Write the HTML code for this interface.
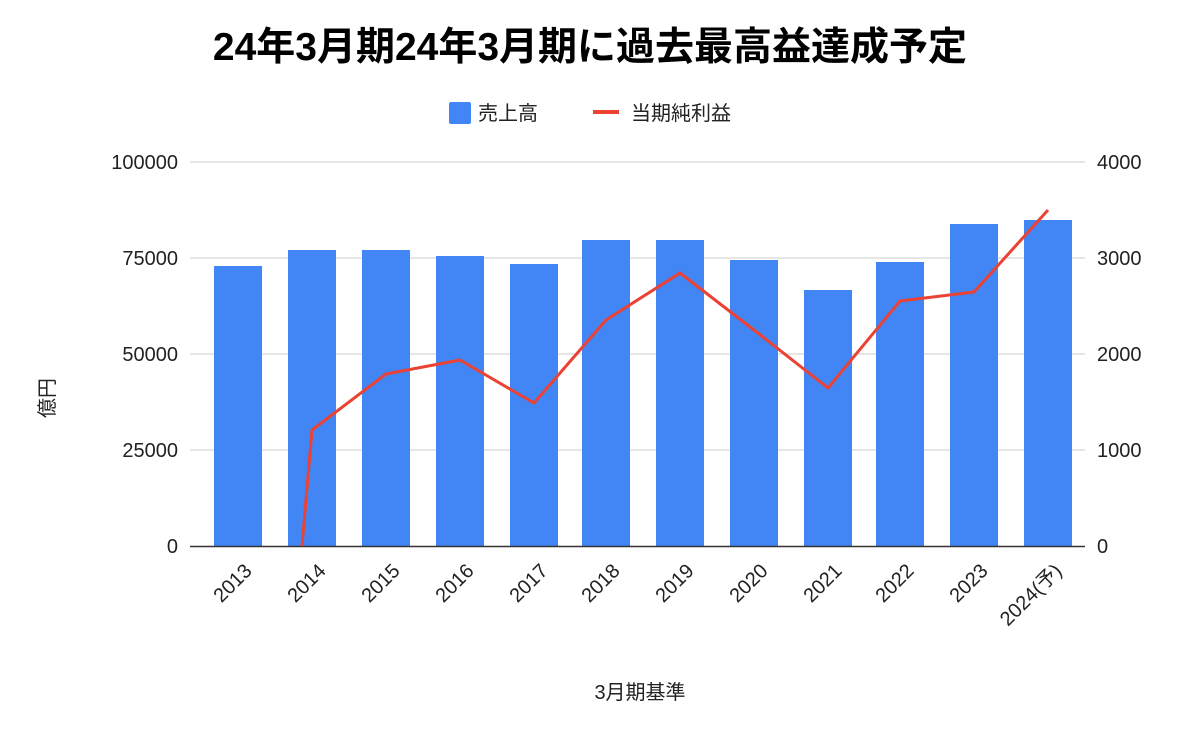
<!DOCTYPE html>
<html><head><meta charset="utf-8"><style>
body{margin:0;background:#fff;}
svg text{font-family:"Liberation Sans","Noto Sans CJK JP",sans-serif;}
</style></head><body>
<svg width="1200" height="742" viewBox="0 0 1200 742" xmlns="http://www.w3.org/2000/svg">
<rect width="1200" height="742" fill="#fff"/>
<text x="590" y="60" text-anchor="middle" font-size="39" font-weight="bold" fill="#000">24年3月期24年3月期に過去最高益達成予定</text>
<rect x="449" y="102" width="22" height="22" rx="2" fill="#4285f4"/>
<text x="478" y="120" font-size="20" fill="#222">売上高</text>
<rect x="593" y="110" width="26" height="4" fill="#ea4335"/>
<text x="631" y="120" font-size="20" fill="#222">当期純利益</text>
<g stroke="#ccc" stroke-width="1">
<line x1="190" y1="162" x2="1085" y2="162"/>
<line x1="190" y1="258" x2="1085" y2="258"/>
<line x1="190" y1="354" x2="1085" y2="354"/>
<line x1="190" y1="450" x2="1085" y2="450"/>
</g>
<g font-size="20" fill="#222" text-anchor="end">
<text x="178" y="169">100000</text><text x="178" y="265">75000</text><text x="178" y="361">50000</text><text x="178" y="457">25000</text><text x="178" y="553">0</text>
</g>
<g font-size="20" fill="#222" text-anchor="start">
<text x="1097" y="169">4000</text><text x="1097" y="265">3000</text><text x="1097" y="361">2000</text><text x="1097" y="457">1000</text><text x="1097" y="553">0</text>
</g>
<text transform="translate(54,398) rotate(-90)" font-size="20" fill="#222" text-anchor="middle">億円</text>
<g fill="#4285f4">
<rect x="214" y="266" width="48" height="280"/>
<rect x="288" y="250" width="48" height="296"/>
<rect x="362" y="250" width="48" height="296"/>
<rect x="436" y="256" width="48" height="290"/>
<rect x="510" y="264" width="48" height="282"/>
<rect x="582" y="240" width="48" height="306"/>
<rect x="656" y="240" width="48" height="306"/>
<rect x="730" y="260" width="48" height="286"/>
<rect x="804" y="290" width="48" height="256"/>
<rect x="876" y="262" width="48" height="284"/>
<rect x="950" y="224" width="48" height="322"/>
<rect x="1024" y="220" width="48" height="326"/>
</g>
<line x1="190" y1="546.5" x2="1085" y2="546.5" stroke="#333" stroke-width="1.5"/>
<polyline fill="none" stroke="#ea4335" stroke-width="3" stroke-linejoin="round" points="302,546 312,430 386,374 460,360 534,403 606,320 680,273 754,330 828,388 900,301 974,292 1048,210"/>
<g font-size="20" fill="#222" text-anchor="end">
<text transform="translate(253,572) rotate(-45)">2013</text>
<text transform="translate(327,572) rotate(-45)">2014</text>
<text transform="translate(401,572) rotate(-45)">2015</text>
<text transform="translate(475,572) rotate(-45)">2016</text>
<text transform="translate(549,572) rotate(-45)">2017</text>
<text transform="translate(621,572) rotate(-45)">2018</text>
<text transform="translate(695,572) rotate(-45)">2019</text>
<text transform="translate(769,572) rotate(-45)">2020</text>
<text transform="translate(843,572) rotate(-45)">2021</text>
<text transform="translate(915,572) rotate(-45)">2022</text>
<text transform="translate(989,572) rotate(-45)">2023</text>
<text transform="translate(1063,572) rotate(-45)">2024(予)</text>
</g>
<text x="640" y="699" font-size="20" fill="#222" text-anchor="middle">3月期基準</text>
</svg>
</body></html>
